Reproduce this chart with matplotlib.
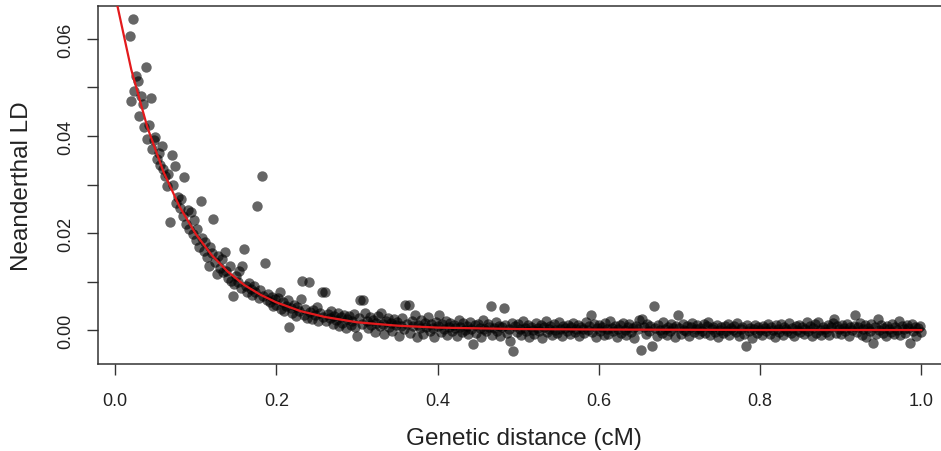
import numpy as np
import matplotlib.pyplot as plt

plt.rcParams['font.family'] = ['Liberation Sans', 'DejaVu Sans']

# genetic distance bins (cM), 0.002 apart, 0.018 .. 1.000
dist_start = 0.018
dist_step = 0.002

# Neanderthal LD, one value per bin
ld_a = [0.0606, 0.0473, 0.0641, 0.0492, 0.0524, 0.0513, 0.0441, 0.0483, 0.0467, 0.0419,
        0.0543, 0.0394, 0.0423, 0.0478, 0.0373, 0.0391, 0.0398, 0.0352, 0.0365, 0.0340,
        0.0380, 0.0331, 0.0318, 0.0296, 0.0322, 0.0222, 0.0360, 0.0300, 0.0339, 0.0262,
        0.0275, 0.0251, 0.0270, 0.0236, 0.0315, 0.0219, 0.0247, 0.0208, 0.0243, 0.0197,
        0.0226]
ld_b = [0.0185, 0.0208, 0.0172, 0.0266, 0.0190, 0.0163, 0.0181, 0.0150, 0.0133, 0.0172,
        0.0158, 0.0229, 0.0141, 0.0115, 0.0152, 0.0128, 0.0146, 0.0119, 0.0160, 0.0122,
        0.0108, 0.0131, 0.0102, 0.0071, 0.0094, 0.0112, 0.0098, 0.0121, 0.0087, 0.0133,
        0.0167, 0.0090, 0.0079, 0.0096, 0.0084, 0.0072, 0.0091, 0.0078, 0.0256, 0.0066,
        0.0082, 0.0318, 0.0070, 0.0138, 0.0061, 0.0075, 0.0058, 0.0069, 0.0049, 0.0063]
ld_c = [0.0052, 0.0066, 0.0078, 0.0043, 0.0058, 0.0039, 0.0049, 0.0061, 0.0007, 0.0045,
        0.0036, 0.0052, 0.0029, 0.0047, 0.0040, 0.0064, 0.0101, 0.0031, 0.0044, 0.0025,
        0.0100, 0.0038, 0.0022, 0.0041, 0.0030, 0.0047, 0.0019, 0.0035, 0.0079, 0.0027,
        0.0078, 0.0018, 0.0033, 0.0024, 0.0040, 0.0012, 0.0029, 0.0021, 0.0036, 0.0009,
        0.0026, 0.0015, 0.0032, 0.0004, 0.0022, 0.0028, 0.0011, 0.0019, 0.0033, 0.0007,
        -0.0012, 0.0024, 0.0062, 0.0013, 0.0062, 0.0036, 0.0018, 0.0005, 0.0027, 0.0010,
        0.0021, -0.0004, 0.0015, 0.0028, 0.0008, 0.0036, 0.0012, -0.0009, 0.0019, 0.0024,
        0.0006, 0.0014, -0.0003, 0.0022, 0.0010, 0.0017, -0.0012, 0.0008, 0.0025, 0.0003,
        0.0052, 0.0013, 0.0052, -0.0006, 0.0018, 0.0009, 0.0031, -0.0014, 0.0011, 0.0004,
        0.0020, -0.0008, 0.0014, 0.0007, 0.0026, -0.0002, 0.0012, 0.0005, -0.0015, 0.0017]
ld_d = [0.0008, 0.0030, -0.0005, 0.0013, 0.0002, 0.0019, -0.0011, 0.0007, 0.0015, -0.0002,
        0.0011, 0.0004, -0.0013, 0.0021, 0.0006, -0.0004, 0.0014, 0.0001, 0.0009, -0.0009,
        0.0017, 0.0003, -0.0029, 0.0010, -0.0006, 0.0012, 0.0005, -0.0015, 0.0020, 0.0002,
        -0.0003, 0.0013, 0.0007, 0.0050, -0.0010, 0.0004, 0.0016, -0.0001, 0.0009, -0.0012,
        0.0006, 0.0045, 0.0011, -0.0007, 0.0002, -0.0022, 0.0014, -0.0043, 0.0008, -0.0004,
        0.0012, 0.0003, -0.0011, 0.0018, 0.0005, -0.0002, 0.0010, -0.0014, 0.0007, 0.0001,
        -0.0008, 0.0015, 0.0004, -0.0003, 0.0011, -0.0016, 0.0006, 0.0019, -0.0005, 0.0002,
        0.0009, -0.0010, 0.0013, 0.0000, -0.0006, 0.0017, 0.0003, -0.0013, 0.0008, 0.0005,
        -0.0002, 0.0011, -0.0009, 0.0006, 0.0014, -0.0004, 0.0002, 0.0010, -0.0012, 0.0007,
        0.0003, -0.0007, 0.0016, 0.0001, 0.0009, 0.0031, -0.0005, 0.0012, -0.0015, 0.0004,
        0.0010, -0.0003, 0.0006, -0.0011, 0.0014, 0.0002, -0.0008, 0.0018, 0.0005, -0.0001,
        0.0008, -0.0014, 0.0003, 0.0011, -0.0006, 0.0015, 0.0000, -0.0010, 0.0007, 0.0012,
        -0.0004, 0.0005, -0.0017, 0.0009, 0.0002, 0.0021, -0.0041, 0.0023, 0.0006, -0.0009,
        0.0013, -0.0002, 0.0008, -0.0032, 0.0050, 0.0004, -0.0012, 0.0010, 0.0001, -0.0006,
        0.0016, 0.0003, -0.0010, 0.0007, -0.0003, 0.0012, 0.0005, -0.0015, 0.0009, 0.0031]
ld_e = [0.0004, -0.0008, 0.0012, 0.0001, -0.0003, 0.0009, -0.0012, 0.0006, 0.0014, -0.0005,
        0.0002, 0.0010, -0.0009, 0.0005, -0.0001, 0.0013, -0.0006, 0.0008, 0.0017, -0.0011,
        0.0003, 0.0007, -0.0004, 0.0011, -0.0014, 0.0001, 0.0006, -0.0007, 0.0009, -0.0002,
        0.0012, -0.0010, 0.0004, 0.0000, 0.0008, -0.0005, 0.0015, -0.0013, 0.0003, 0.0006,
        -0.0009, -0.0032, 0.0010, -0.0003, 0.0005, -0.0016, 0.0002, 0.0011, -0.0006, 0.0007,
        0.0001, -0.0011, 0.0009, 0.0004, -0.0002, 0.0013, -0.0008, 0.0006, 0.0000, -0.0014,
        0.0010, 0.0003, -0.0005, 0.0012, -0.0010, 0.0007, 0.0002, -0.0003, 0.0014, -0.0007,
        0.0005, -0.0012, 0.0008, 0.0001, 0.0011, -0.0004, 0.0006, -0.0009, 0.0003, 0.0016,
        -0.0002, 0.0009, -0.0013, 0.0004, 0.0012, -0.0006, 0.0017, 0.0001, -0.0010, 0.0007,
        0.0003, -0.0004, 0.0010, -0.0011, 0.0006, 0.0015, 0.0023, -0.0007, 0.0008, 0.0002,
        -0.0009, 0.0011, 0.0004, -0.0002, 0.0013, -0.0012, 0.0006, 0.0000, 0.0009, 0.0032,
        -0.0005, 0.0007, 0.0014, -0.0010, 0.0003, 0.0010, -0.0015, 0.0005, -0.0003, 0.0012,
        -0.0027, 0.0006, -0.0008, 0.0023, 0.0001, 0.0011, -0.0006, 0.0004, -0.0012, 0.0008,
        0.0002, -0.0004, 0.0013, -0.0009, 0.0006, 0.0000, 0.0019, -0.0011, 0.0009, 0.0003,
        -0.0007, 0.0010, 0.0005, -0.0027, 0.0012, -0.0003, 0.0007, -0.0013, 0.0004, 0.0008,
        -0.0005]

# fitted decay curve
fit_x = [0.0, 0.02, 0.04, 0.06, 0.08, 0.10, 0.12, 0.14, 0.16, 0.18, 0.20,
         0.23, 0.26, 0.30, 0.35, 0.40, 0.50, 0.60, 0.80, 1.00]
fit_y = [0.0690, 0.0537, 0.0418, 0.0326, 0.0254, 0.0198, 0.0154, 0.0120, 0.0093, 0.0073, 0.0057,
         0.0039, 0.0027, 0.0016, 0.0009, 0.0005, 0.0002, 0.0001, 0.0000, 0.0000]

ld = np.array(ld_a + ld_b + ld_c + ld_d + ld_e)
dist = dist_start + dist_step * np.arange(len(ld))

fig = plt.figure(figsize=(9.41, 4.52), dpi=100)
ax = fig.add_axes([0.1041, 0.1925, 0.9086, 0.792])

ax.scatter(dist, ld, s=56, color='black', alpha=0.6, linewidths=0, zorder=2)
ax.plot(fit_x, fit_y, color='#e31a1c', lw=1.6, zorder=3)

ax.set_xlim(-0.0213, 1.0393)
ax.set_ylim(-0.0070, 0.0668)

ax.set_xticks([0.0, 0.2, 0.4, 0.6, 0.8, 1.0])
ax.set_xticklabels(['0.0', '0.2', '0.4', '0.6', '0.8', '1.0'])
ax.set_yticks([0.00, 0.01, 0.02, 0.03, 0.04, 0.05, 0.06])
ax.set_yticklabels(['0.00', '', '0.02', '', '0.04', '', '0.06'], rotation=90, va='center')

for sp in ax.spines.values():
    sp.set_linewidth(1.1)
    sp.set_color('#333333')
ax.tick_params(axis='both', length=8, width=1.0, color='#333333', labelsize=13, labelcolor='#222222')
ax.tick_params(axis='x', pad=12)
ax.tick_params(axis='y', pad=9)

fig.text(0.557, 1 - 439 / 452, 'Genetic distance (cM)', ha='center', va='center', fontsize=17.5, color='#222222')
fig.text(0.0234, 0.588, 'Neanderthal LD', ha='center', va='center', rotation=90, fontsize=17.5, color='#222222')

fig.savefig('out.png', dpi=100)
